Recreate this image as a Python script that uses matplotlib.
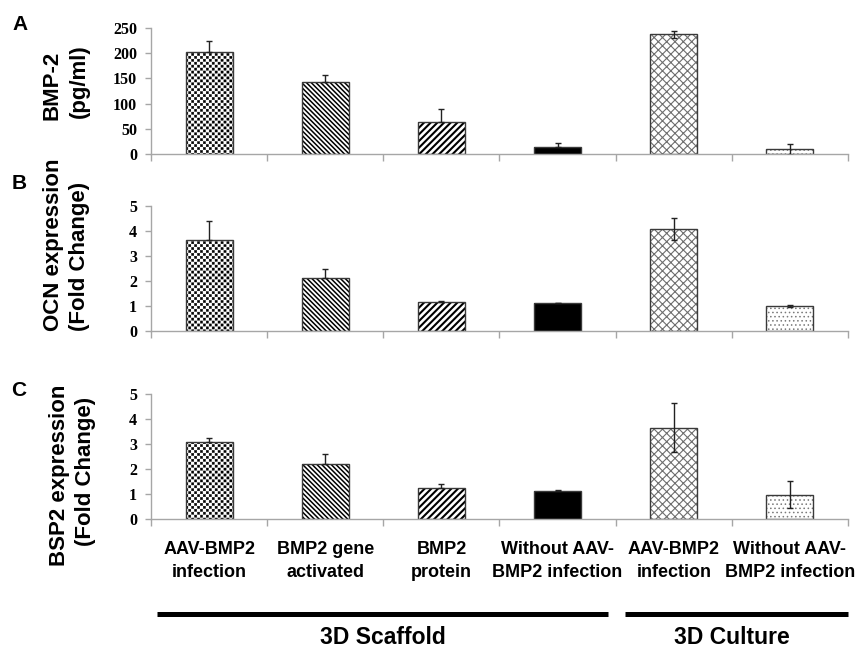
import warnings
import numpy as np
import matplotlib
matplotlib.use("Agg")
import matplotlib.pyplot as plt
import matplotlib.hatch as mhatch
from matplotlib.path import Path

warnings.filterwarnings("ignore")

# ---------------- data ----------------
categories = ["AAV-BMP2\ninfection", "BMP2 gene\nactivated", "BMP2\nprotein",
              "Without AAV-\nBMP2 infection", "AAV-BMP2\ninfection",
              "Without AAV-\nBMP2 infection"]
bmp2_values = [203, 142, 64, 14.5, 238, 9.3]
bmp2_errors = [21, 14, 26, 8, 7, 11]
ocn_values = [3.64, 2.10, 1.15, 1.12, 4.07, 1.00]
ocn_errors = [0.74, 0.36, 0.03, 0.0, 0.45, 0.03]
bsp2_values = [3.08, 2.21, 1.25, 1.13, 3.65, 0.97]
bsp2_errors = [0.15, 0.38, 0.17, 0.04, 0.98, 0.54]
groups = ["3D Scaffold", "3D Culture"]
group_first = [0, 4]
group_last = [3, 5]
panel_letters = ["A", "B", "C"]
ylabels = [["BMP-2", "(pg/ml)"], ["OCN expression", "(Fold Change)"],
           ["BSP2 expression", "(Fold Change)"]]
ylims = [250, 5, 5]
ystep = [50, 1, 1]


# ---------------- custom checkerboard hatch ----------------
class CheckerHatch(mhatch.HatchPatternBase):
    def __init__(self, hatch, density):
        self.n = 34 if "c" in hatch else 0
        self.num_vertices = (self.n * self.n // 2) * 5

    def set_vertices_and_codes(self, vertices, codes):
        s = 1.0 / self.n
        e = s * 0.12
        sq = np.array([[e, e], [s - e, e], [s - e, s - e], [e, s - e], [e, e]])
        cd = [Path.MOVETO, Path.LINETO, Path.LINETO, Path.LINETO, Path.CLOSEPOLY]
        vp, cp = [], []
        for i in range(self.n):
            for j in range(self.n):
                if (i + j) % 2 == 0:
                    vp.append(sq + [i * s, j * s])
                    cp.append(cd)
        vertices[:] = np.concatenate(vp)
        codes[:] = np.concatenate(cp)


mhatch._hatch_types.append(CheckerHatch)

# ---------------- styles ----------------
bar_styles = [
    dict(hatch="c", face="white", hcolor="black", hlw=0.3),
    dict(hatch="\\" * 7, face="white", hcolor="black", hlw=1.1),
    dict(hatch="/" * 5, face="white", hcolor="black", hlw=1.5),
    dict(hatch=None, face="black", hcolor="black", hlw=1.0),
    dict(hatch="xxxx", face="white", hcolor="#6e6e6e", hlw=0.8),
    dict(hatch="....", face="white", hcolor="#7a7a7a", hlw=0.6),
]
lower_visible = [False, False, False, False, True, True]
edge_col = "#3a3a3a"
spine_col = "#a6a6a6"

W, H = 865, 652
fig = plt.figure(figsize=(W / 100, H / 100), dpi=100)

# axes pixel boxes: (left, top, right, bottom)
boxes = [(151, 28, 848, 154), (151, 206, 848, 330.7), (151, 394, 848, 519)]
letter_pos = [(20, 25), (19, 183), (19, 390)]
ylab_x = [(52, 79), (54, 79), (60, 85)]
ylab_y = [(85, 81), (245, 256), (475, 471)]

all_vals = [bmp2_values, ocn_values, bsp2_values]
all_errs = [bmp2_errors, ocn_errors, bsp2_errors]
x = np.arange(len(categories))
bw = 0.405

axes = []
for p in range(3):
    l, t, r, b = boxes[p]
    ax = fig.add_axes([l / W, 1 - b / H, (r - l) / W, (b - t) / H])
    axes.append(ax)
    vals = all_vals[p]
    errs = all_errs[p]
    for i in range(len(x)):
        st = bar_styles[i]
        with plt.rc_context({"hatch.linewidth": st["hlw"]}):
            ax.bar(x[i], vals[i], width=bw, color=st["face"], hatch=st["hatch"],
                   edgecolor=st["hcolor"], linewidth=0, zorder=2)
        ax.bar(x[i], vals[i], width=bw, fill=False, edgecolor=edge_col,
               linewidth=1.0, zorder=2.5)
    lower = [e if v else 0 for e, v in zip(errs, lower_visible)]
    ax.errorbar(x, vals, yerr=[lower, errs], fmt="none", ecolor="#222222",
                elinewidth=1.0, capsize=2.5, capthick=1.0, zorder=3)
    ax.set_xlim(-0.5, len(x) - 0.5)
    ax.set_ylim(0, ylims[p])
    ticks = np.arange(0, ylims[p] + ystep[p] / 2, ystep[p])
    ax.set_yticks(ticks)
    ax.set_yticklabels([f"{v:g}" for v in ticks],
                       fontfamily="Liberation Serif", fontweight="bold", fontsize=11.5)
    for s in ["top", "right"]:
        ax.spines[s].set_visible(False)
    for s in ["left", "bottom"]:
        ax.spines[s].set_color(spine_col)
        ax.spines[s].set_linewidth(1.0)
    ax.tick_params(axis="y", direction="out", length=4, color=spine_col, width=1.0, pad=6)
    ax.set_xticks(np.arange(-0.5, len(x)), minor=True)
    ax.tick_params(axis="x", which="minor", direction="out", length=5, color=spine_col, width=1.0)
    if p < 2:
        ax.set_xticks([])
    else:
        ax.set_xticks(x)
        ax.set_xticklabels(categories, fontfamily="Liberation Sans", fontweight="bold",
                           fontsize=13, linespacing=1.45)
        ax.tick_params(axis="x", which="major", length=0, pad=16)
    ax.patch.set_alpha(0)
    fig.text(letter_pos[p][0] / W, 1 - letter_pos[p][1] / H, panel_letters[p],
             fontfamily="Liberation Sans", fontweight="bold", fontsize=15,
             ha="center", va="center")
    for k in range(2):
        fig.text(ylab_x[p][k] / W, 1 - ylab_y[p][k] / H, ylabels[p][k], rotation=90,
                 fontfamily="Liberation Sans", fontweight="bold", fontsize=16,
                 ha="center", va="center")

# group lines and labels under the bottom panel
axc = axes[2]
pad_left = [0.45, 0.42]
pad_right = [0.43, 0.5]
for g in range(len(groups)):
    x0 = group_first[g] - pad_left[g]
    x1 = group_last[g] + pad_right[g]
    axc.plot([x0, x1], [-0.76, -0.76], transform=axc.get_xaxis_transform(),
             color="black", linewidth=3.6, solid_capstyle="butt", clip_on=False)
    axc.text((group_first[g] + group_last[g]) / 2, -0.95, groups[g],
             transform=axc.get_xaxis_transform(), ha="center", va="center",
             fontfamily="Liberation Sans", fontweight="bold", fontsize=16.5)

fig.savefig("out.png", dpi=100)
